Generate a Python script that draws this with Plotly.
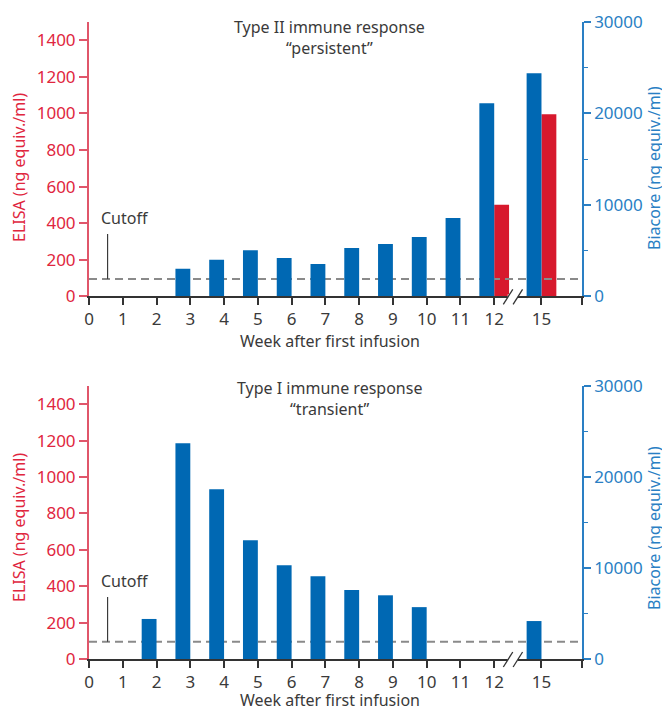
import plotly.graph_objects as go

# ---------------- data ----------------
week_labels = ["0", "1", "2", "3", "4", "5", "6", "7", "8", "9", "10", "11", "12", "15"]
week_pos = [0, 1, 2, 3, 4, 5, 6, 7, 8, 9, 10, 11, 12, 13.4]   # axis is broken between 12 and 15

# Type II "persistent"
t2_biacore_weeks = ["3", "4", "5", "6", "7", "8", "9", "10", "11", "12", "15"]
t2_biacore = [3000, 4000, 5050, 4180, 3530, 5280, 5710, 6480, 8550, 21120, 24400]
t2_elisa_weeks = ["12", "15"]
t2_elisa = [500, 995]

# Type I "transient"
t1_biacore_weeks = ["2", "3", "4", "5", "6", "7", "8", "9", "10", "15"]
t1_biacore = [4400, 23700, 18660, 13060, 10300, 9100, 7570, 7000, 5700, 4170]
t1_elisa_weeks = []
t1_elisa = []

cutoff_elisa = 95

elisa_ticks = [0, 200, 400, 600, 800, 1000, 1200, 1400]
biacore_ticks = [0, 10000, 20000, 30000]

# ---------------- style ----------------
FONT = "Noto Sans"
TXT = "#3a3a3a"
RED = "#d7192d"
RED_TXT = "#e0263e"
RED_LINE = "#e0566a"
BLUE = "#0068b3"
BLUE_TXT = "#2a7fc4"
GRAY = "#8a8a8a"
OFF = 8                      # page body margin
W, H = 670 - OFF, 710 - OFF  # figure size so that it fills the window
X_MAX = 14.6
BW = 0.44
E_MAX = 1500

pos = dict(zip(week_labels, week_pos))


def px_(x):
    return (x - OFF) / W


def py(y):
    return 1 - (y - OFF) / H


fig = go.Figure()

panels = [
    dict(x="x", yl="y", yr="y2", bw=t2_biacore_weeks, bv=t2_biacore, ew=t2_elisa_weeks, ev=t2_elisa),
    dict(x="x2", yl="y3", yr="y4", bw=t1_biacore_weeks, bv=t1_biacore, ew=t1_elisa_weeks, ev=t1_elisa),
]

for p in panels:
    fig.add_trace(go.Bar(x=[pos[w] for w in p["bw"]], y=p["bv"], width=BW, offset=-BW,
                         marker=dict(color=BLUE, line=dict(width=0)),
                         xaxis=p["x"], yaxis=p["yr"], showlegend=False, hoverinfo="skip"))
    fig.add_trace(go.Bar(x=[pos[w] for w in p["ew"]], y=p["ev"], width=BW, offset=0,
                         marker=dict(color=RED, line=dict(width=0)),
                         xaxis=p["x"], yaxis=p["yl"], showlegend=False, hoverinfo="skip"))
    fig.add_trace(go.Scatter(x=[0, X_MAX], y=[cutoff_elisa, cutoff_elisa], mode="lines",
                             line=dict(color=GRAY, width=2, dash="8px,5px"),
                             xaxis=p["x"], yaxis=p["yl"], showlegend=False, hoverinfo="skip"))

dom_top = [py(296.3), py(22)]
dom_bot = [py(659), py(386)]
xdom = [px_(89), px_(582)]

xcommon = dict(domain=xdom, range=[0, X_MAX], tickvals=week_pos + [X_MAX], ticktext=week_labels + [""],
               showline=True, linecolor="#333333", linewidth=1.5, ticks="outside", ticklen=7,
               tickwidth=1.5, tickcolor="#333333", showgrid=False, zeroline=False, automargin=False,
               tickfont=dict(family=FONT, size=17, color=TXT), fixedrange=True)
ylcommon = dict(range=[0, E_MAX], tickvals=elisa_ticks, ticktext=[str(v) for v in elisa_ticks],
                showline=True, linecolor=RED_LINE, linewidth=2, automargin=False,
                ticks="outside", ticklen=8, tickwidth=1.5, tickcolor=RED_LINE, showgrid=False,
                zeroline=False, tickfont=dict(family=FONT, size=17, color=RED_TXT), fixedrange=True)
yrcommon = dict(range=[0, 30000], tickvals=biacore_ticks, ticktext=[str(v) for v in biacore_ticks],
                side="right", showline=True, linecolor=BLUE_TXT, automargin=False,
                linewidth=1.5, ticks="outside", ticklen=7, tickwidth=1.5, tickcolor=BLUE_TXT,
                showgrid=False, zeroline=False, tickfont=dict(family=FONT, size=17, color=BLUE_TXT),
                minor=dict(tickvals=[5000, 15000, 25000], ticks="outside", ticklen=4, tickwidth=1.2,
                           tickcolor=BLUE_TXT, showgrid=False),
                fixedrange=True)

fig.update_layout(
    template="none",
    width=W, height=H, margin=dict(l=0, r=0, t=0, b=0, pad=0, autoexpand=False),
    paper_bgcolor="white", plot_bgcolor="white", barmode="overlay",
    xaxis=dict(anchor="y", **xcommon),
    yaxis=dict(domain=dom_top, anchor="x", **ylcommon),
    yaxis2=dict(overlaying="y", anchor="x", **yrcommon),
    xaxis2=dict(anchor="y3", **xcommon),
    yaxis3=dict(domain=dom_bot, anchor="x2", **ylcommon),
    yaxis4=dict(overlaying="y3", anchor="x2", **yrcommon),
)

ann = []
shapes = []


def label(text, x, y, color=TXT, angle=0, xanchor="center", size=16):
    ann.append(dict(text=text, x=px_(x), y=py(y), xref="paper", yref="paper", showarrow=False,
                    xanchor=xanchor, yanchor="middle", textangle=angle, align="center",
                    font=dict(family=FONT, size=size, color=color)))


label("Type II immune response<br>“persistent”", 329, 37)
label("Type I immune response<br>“transient”", 329, 398)

for yax, xax, dom, ytitle, cut_lab, cut_top, xtitle_y in [
    ("y", "x", dom_top, 168, 218, 234, 341),
    ("y3", "x2", dom_bot, 528, 581, 597, 700),
]:
    label("ELISA (ng equiv./ml)", 19, ytitle, RED_TXT, -90)
    label("Biacore (ng equiv./ml)", 654, ytitle, BLUE_TXT, -90)
    label("Week after first infusion", 330, xtitle_y)
    label("Cutoff", 99, cut_lab, xanchor="left")
    base = dom[0]
    # cutoff pointer: vertical tick from the cutoff line up towards the label
    shapes.append(dict(type="line", xref=xax, yref="paper", x0=0.55, x1=0.55,
                       y0=base + cutoff_elisa / E_MAX * (dom[1] - dom[0]), y1=py(cut_top),
                       line=dict(color=TXT, width=1.2)))
    # axis break: gap + two slashes
    shapes.append(dict(type="line", xref=xax, yref="paper", x0=12.40, x1=12.70, y0=base, y1=base,
                       line=dict(color="white", width=4), layer="above"))
    for dx in (0.0, 0.29):
        shapes.append(dict(type="line", xref=xax, yref="paper", x0=12.27 + dx, x1=12.55 + dx,
                           y0=base - 8 / H, y1=base + 7 / H, line=dict(color="#333333", width=1.3),
                           layer="above"))

fig.update_layout(annotations=ann, shapes=shapes)
fig.write_html("out.html")
